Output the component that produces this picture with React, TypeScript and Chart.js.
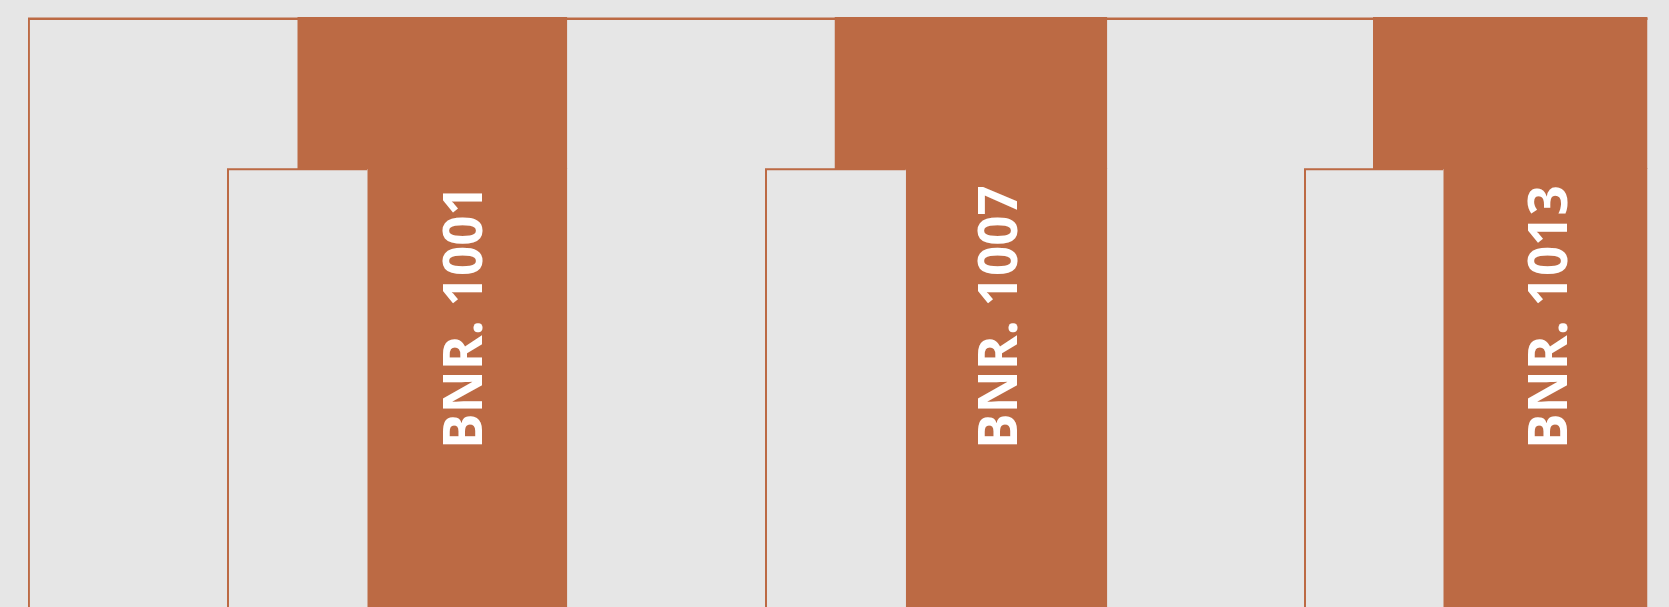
import React, { useEffect, useRef } from "react";
import { Chart, registerables } from "chart.js";

Chart.register(...registerables);

// ---- data (x: distance from the frame's left edge, y: depth below the frame top) ----
const labels = ["BNR. 1001", "BNR. 1007", "BNR. 1013"];
const stripEnds = [539.3, 1079.3, 1619.5];
const tabStarts = [269.3, 806.5, 1345];
const boxStarts = [200, 738, 1277];
const spineStarts = [339.3, 877.8, 1415.3];
const labelAnchors = [435.3, 969.9, 1520.2];
const tabDepth = 152;
const boxTop = 152.3;
const frameTop = 1.7;
const frameLeft = 0.6;
const depthMax = 590;
const widthMax = 1620;
const labelDepth = 300;

const BROWN = "#bc6a44";
const GRAY = "#e6e6e6";
const FONT_FAMILY = '"Open Sans", "Noto Sans", Roboto, sans-serif';
const FONT_SIZE = 53;
const CAP_RATIO = 0.714;

function buildDatasets() {
  const tabs = labels.map((l, i) => ({
    label: l + " tab",
    data: [
      { x: tabStarts[i], y: tabDepth },
      { x: stripEnds[i], y: tabDepth },
    ],
    borderWidth: 0,
    borderColor: "rgba(0,0,0,0)",
    backgroundColor: BROWN,
    fill: { value: 0 },
    pointRadius: 0,
  }));
  const spines = labels.map((l, i) => ({
    label: l + " spine",
    data: [
      { x: spineStarts[i], y: tabDepth - 1 },
      { x: stripEnds[i], y: tabDepth - 1 },
    ],
    borderWidth: 0,
    borderColor: "rgba(0,0,0,0)",
    backgroundColor: BROWN,
    fill: { value: depthMax },
    pointRadius: 0,
  }));
  const boxes = labels.map((l, i) => ({
    label: l + " box",
    data: [
      { x: boxStarts[i], y: depthMax },
      { x: boxStarts[i], y: boxTop },
      { x: spineStarts[i], y: boxTop },
    ],
    borderWidth: 2,
    borderColor: BROWN,
    backgroundColor: BROWN,
    fill: false,
    pointRadius: 0,
    borderJoinStyle: "miter",
    borderCapStyle: "butt",
  }));
  const frame = {
    label: "frame",
    data: [
      { x: frameLeft, y: depthMax },
      { x: frameLeft, y: frameTop },
      { x: stripEnds[stripEnds.length - 1], y: frameTop },
    ],
    borderWidth: 2.6,
    borderColor: BROWN,
    backgroundColor: BROWN,
    fill: false,
    pointRadius: 0,
    borderJoinStyle: "miter",
    borderCapStyle: "butt",
  };
  return [...tabs, ...spines, ...boxes, frame];
}

const labelPlugin = {
  id: "spineLabels",
  afterDatasetsDraw(chart: any) {
    const { ctx, scales } = chart;
    const xs = scales.x;
    const ys = scales.y;
    ctx.save();
    ctx.fillStyle = "#ffffff";
    ctx.font = `bold ${FONT_SIZE}px ${FONT_FAMILY}`;
    ctx.textAlign = "center";
    ctx.textBaseline = "alphabetic";
    labels.forEach((t, i) => {
      const px = xs.getPixelForValue(labelAnchors[i]);
      const py = ys.getPixelForValue(labelDepth);
      ctx.save();
      ctx.translate(px, py);
      ctx.rotate(-Math.PI / 2);
      ctx.fillText(t, 0, (FONT_SIZE * CAP_RATIO) / 2);
      ctx.restore();
    });
    ctx.restore();
  },
};

export default function App() {
  const ref = useRef<HTMLCanvasElement>(null);
  useEffect(() => {
    if (!ref.current) return;
    let alive = true;
    const chart = new Chart(ref.current, {
      type: "line",
      data: { datasets: buildDatasets() as any },
      options: {
        responsive: false,
        animation: false,
        events: [],
        layout: { padding: { left: 28, top: 17, right: 1669 - 28 - widthMax, bottom: 0 } },
        scales: {
          x: { type: "linear", min: 0, max: widthMax, display: false },
          y: { type: "linear", min: 0, max: depthMax, reverse: true, display: false },
        },
        plugins: { legend: { display: false }, tooltip: { enabled: false } },
        elements: { line: { tension: 0 }, point: { radius: 0 } },
      },
      plugins: [labelPlugin],
    } as any);
    const fonts: any = (document as any).fonts;
    if (fonts && fonts.load) {
      fonts
        .load(`bold ${FONT_SIZE}px "Open Sans"`, "BNR. 1001")
        .catch(() => null)
        .then(() => {
          if (alive) chart.draw();
        });
    }
    return () => {
      alive = false;
      chart.destroy();
    };
  }, []);
  return (
    <div
      style={{
        position: "fixed",
        left: 0,
        top: 0,
        width: 1669,
        height: 607,
        background: GRAY,
        overflow: "hidden",
        fontFamily: FONT_FAMILY,
      }}
    >
      <canvas ref={ref} width={1669} height={607} style={{ display: "block", width: 1669, height: 607 }} />
    </div>
  );
}
